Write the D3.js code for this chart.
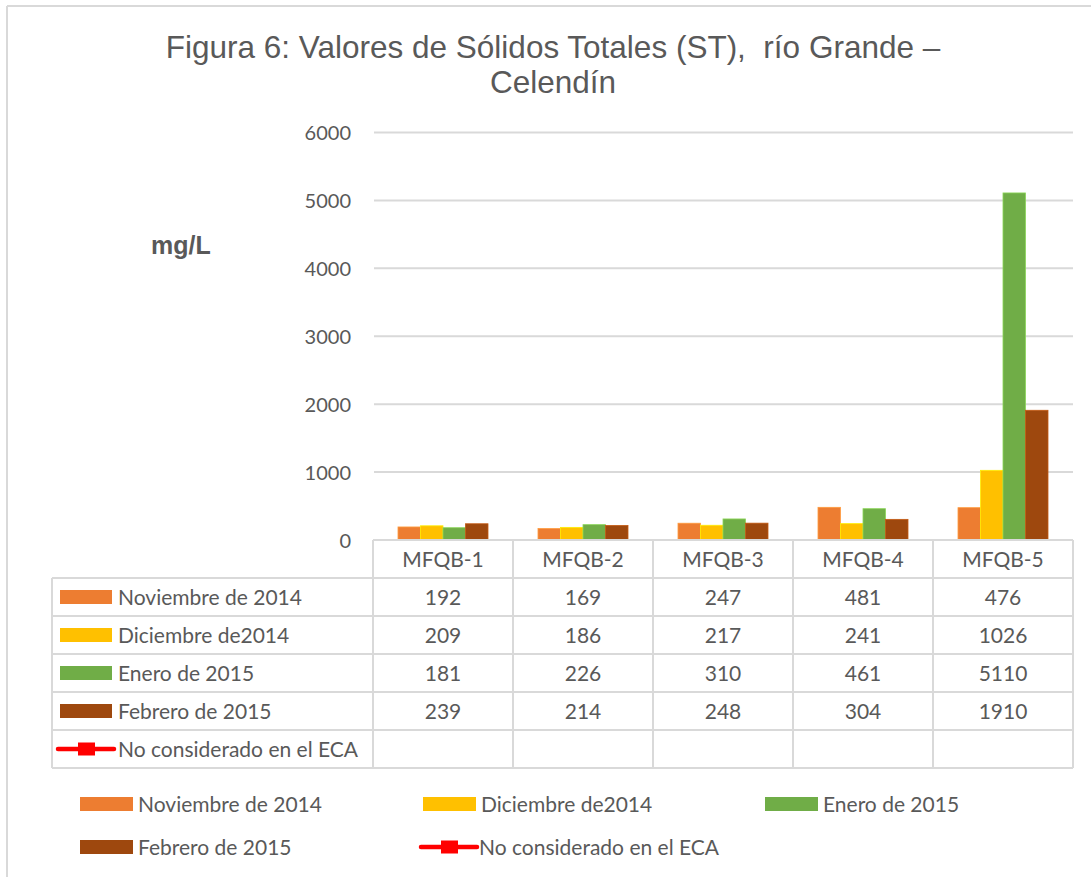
<!DOCTYPE html>
<html><head><meta charset="utf-8">
<script src="https://cdn.jsdelivr.net/npm/d3@7"></script>
<style>
body{margin:0;background:#fff}
svg{display:block}
text{fill:#595959;white-space:pre}
</style></head>
<body><svg id="c" width="1091" height="877"></svg>
<script>
const categories = ["MFQB-1","MFQB-2","MFQB-3","MFQB-4","MFQB-5"];
const seriesNames = ["Noviembre de 2014","Diciembre de2014","Enero de 2015","Febrero de 2015"];
const noviembre = [192,169,247,481,476];
const diciembre = [209,186,217,241,1026];
const enero = [181,226,310,461,5110];
const febrero = [239,214,248,304,1910];
const ecaName = "No considerado en el ECA";
const yTicks = [0,1000,2000,3000,4000,5000,6000];
const colors = ["#ED7D31","#FFC000","#70AD47","#9E480E"];
const titleLines = ["Figura 6: Valores de Sólidos Totales (ST),  río Grande –","Celendín"];
const yLabel = "mg/L";

const series = [noviembre, diciembre, enero, febrero].map((v,i)=>({name:seriesNames[i], values:v, color:colors[i]}));

const svg = d3.select("#c");
const grid = "#d9d9d9";
const bodyFont = "Lato, 'Open Sans', sans-serif";
const titleFont = "'Liberation Sans', Arial, sans-serif";
const fs = 21;

// outer frame (cropped)
svg.append("line").attr("x1",7).attr("x2",1091).attr("y1",6).attr("y2",6).attr("stroke",grid).attr("stroke-width",2);
svg.append("line").attr("x1",7).attr("x2",7).attr("y1",6).attr("y2",877).attr("stroke",grid).attr("stroke-width",2);

// title
svg.append("text").attr("x",553).attr("y",58).attr("text-anchor","middle").attr("xml:space","preserve")
  .attr("font-family",titleFont).attr("font-size",31.5).text(titleLines[0]);
svg.append("text").attr("x",553).attr("y",93).attr("text-anchor","middle")
  .attr("font-family",titleFont).attr("font-size",31.5).text(titleLines[1]);

// y label
svg.append("text").attr("x",151).attr("y",254).attr("font-family",titleFont)
  .attr("font-weight","bold").attr("font-size",25).text(yLabel);

const x = d3.scaleBand().domain(categories).range([373,1073]);
const xi = d3.scaleBand().domain(seriesNames).range([25,115]);
const y = d3.scaleLinear().domain([0,6000]).range([540,132.5]);

// gridlines
svg.append("g").selectAll("line").data(yTicks.filter(d=>d>0)).join("line")
  .attr("x1",374).attr("x2",1073).attr("y1",d=>y(d)).attr("y2",d=>y(d))
  .attr("stroke",grid).attr("stroke-width",2);

// y axis labels
const yAxis = d3.axisLeft(y).tickValues(yTicks).tickSize(0).tickPadding(0).tickFormat(d3.format("d"));
const ga = svg.append("g").attr("transform","translate(351,0)").call(yAxis);
ga.select(".domain").remove();
ga.selectAll("text").attr("font-family",bodyFont).attr("font-size",20).attr("fill","#595959").attr("dy","0.36em");

// bars
const gb = svg.append("g");
series.forEach(s=>{
  gb.append("g").selectAll("rect").data(s.values).join("rect")
    .attr("x",(d,i)=>x(categories[i])+xi(s.name))
    .attr("width",xi.bandwidth())
    .attr("y",d=>y(d)).attr("height",d=>y(0)-y(d))
    .attr("fill",s.color)
    .attr("stroke",d3.color(s.color).brighter(0.6)).attr("stroke-width",0.8);
});

// data table
const rowH = 38;
const tTop = 540, hdrBot = 578;
const tLeft = 52, tRight = 1073;
const nRows = series.length + 1;
const tBot = hdrBot + rowH*nRows;
const tg = svg.append("g");
tg.append("line").attr("x1",373).attr("x2",tRight).attr("y1",tTop).attr("y2",tTop).attr("stroke",grid).attr("stroke-width",2);
d3.range(nRows+1).forEach(r=>{
  tg.append("line").attr("x1",tLeft).attr("x2",tRight).attr("y1",hdrBot+r*rowH).attr("y2",hdrBot+r*rowH)
    .attr("stroke",grid).attr("stroke-width",2);
});
tg.append("line").attr("x1",tLeft).attr("x2",tLeft).attr("y1",hdrBot).attr("y2",tBot).attr("stroke",grid).attr("stroke-width",2);
categories.forEach((c,i)=>{
  tg.append("line").attr("x1",x(c)).attr("x2",x(c)).attr("y1",tTop).attr("y2",tBot).attr("stroke",grid).attr("stroke-width",2);
});
tg.append("line").attr("x1",tRight).attr("x2",tRight).attr("y1",tTop).attr("y2",tBot).attr("stroke",grid).attr("stroke-width",2);
tg.selectAll("text.hdr").data(categories).join("text").attr("class","hdr")
  .attr("x",d=>x(d)+x.bandwidth()/2).attr("y",(tTop+hdrBot)/2).attr("dy","0.36em")
  .attr("text-anchor","middle").attr("font-family",bodyFont).attr("font-size",fs).text(d=>d);
series.forEach((s,r)=>{
  const cy = hdrBot + r*rowH + rowH/2;
  tg.append("rect").attr("x",60).attr("y",cy-7).attr("width",52).attr("height",14).attr("fill",s.color);
  tg.append("text").attr("x",118).attr("y",cy).attr("dy","0.36em").attr("font-family",bodyFont).attr("font-size",fs).text(s.name);
  tg.append("g").selectAll("text").data(s.values).join("text")
    .attr("x",(d,i)=>x(categories[i])+x.bandwidth()/2).attr("y",cy).attr("dy","0.36em")
    .attr("text-anchor","middle").attr("font-family",bodyFont).attr("font-size",fs).text(d=>d);
});
function ecaSymbol(g, x0, cy){
  g.append("line").attr("x1",x0).attr("x2",x0+56).attr("y1",cy).attr("y2",cy)
    .attr("stroke","#FF0000").attr("stroke-width",4.5).attr("stroke-linecap","round");
  g.append("rect").attr("x",x0+20).attr("y",cy-6.5).attr("width",17).attr("height",13).attr("fill","#FF0000");
}
{
  const cy = hdrBot + series.length*rowH + rowH/2;
  ecaSymbol(tg, 58, cy);
  tg.append("text").attr("x",118).attr("y",cy).attr("dy","0.36em").attr("font-family",bodyFont).attr("font-size",fs).text(ecaName);
}

// bottom legend
const legendItems = series.map(s=>({name:s.name,color:s.color,type:"rect"})).concat([{name:ecaName,type:"line"}]);
const legPos = [[80,804],[423,804],[765,804],[80,847],[421,847]];
const lg = svg.append("g");
legendItems.forEach((it,i)=>{
  const [lx,ly] = legPos[i];
  if(it.type==="rect"){
    lg.append("rect").attr("x",lx).attr("y",ly-7).attr("width",53).attr("height",14).attr("fill",it.color);
  } else {
    ecaSymbol(lg, lx, ly);
  }
  lg.append("text").attr("x",lx+58).attr("y",ly).attr("dy","0.36em").attr("font-family",bodyFont).attr("font-size",fs).text(it.name);
});
</script></body></html>
